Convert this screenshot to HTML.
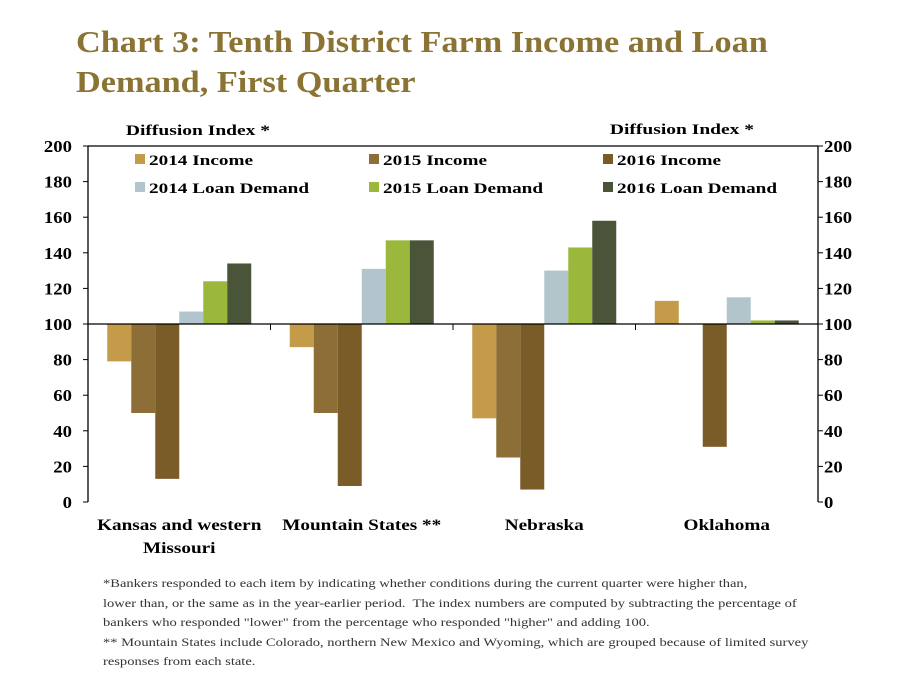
<!DOCTYPE html>
<html><head><meta charset="utf-8"><style>
body{margin:0;background:#fff;font-family:"Liberation Serif",serif;}
#wrap{position:relative;width:898px;height:674px;overflow:hidden;}
h1{position:absolute;left:76px;top:22px;margin:0;font-size:31px;line-height:40px;color:#8a7333;font-weight:bold;transform:scaleX(1.105);transform-origin:0 0;white-space:nowrap;}
.note{position:absolute;left:103px;top:574px;font-size:12px;line-height:19.5px;color:#333;width:760px;white-space:nowrap;transform:scaleX(1.21);transform-origin:0 0;}
</style></head><body>
<div id="wrap">
<h1>Chart 3: Tenth District Farm Income and Loan<br>Demand, First Quarter</h1>
<svg id="chart" width="898" height="674" style="position:absolute;left:0;top:0"></svg>
<div class="note">*Bankers responded to each item by indicating whether conditions during the current quarter were higher than,<br>lower than, or the same as in the year-earlier period.&nbsp; The index numbers are computed by subtracting the percentage of<br>bankers who responded "lower" from the percentage who responded "higher" and adding 100.<br>** Mountain States include Colorado, northern New Mexico and Wyoming, which are grouped because of limited survey<br>responses from each state.</div>
</div>
<script>
const categories=["Kansas and western|Missouri","Mountain States **","Nebraska","Oklahoma"];
const seriesNames=["2014 Income","2015 Income","2016 Income","2014 Loan Demand","2015 Loan Demand","2016 Loan Demand"];
const income2014=[79,87,47,113];
const income2015=[50,50,25,null];
const income2016=[13,9,7,31];
const loan2014=[107,131,130,115];
const loan2015=[124,147,143,102];
const loan2016=[134,147,158,102];
const yTicks=[0,20,40,60,80,100,120,140,160,180,200];
const colors=["#c49b48","#8c6e36","#7a5c29","#b3c5cc","#9bb83c","#4a5438"];
const series=[income2014,income2015,income2016,loan2014,loan2015,loan2016];
const svg=document.getElementById('chart');
const NS='http://www.w3.org/2000/svg';
const L=88,R=818,T=146,B=502;
const y=v=>B-(v/200)*(B-T);
const gw=(R-L)/categories.length, bw=24, pad=(gw-6*bw)/2;
const x=(ci,si)=>L+ci*gw+pad+si*bw;
function mk(tag,attrs,txt){const e=document.createElementNS(NS,tag);for(const k in attrs)e.setAttribute(k,attrs[k]);if(txt!==undefined)e.textContent=txt;svg.appendChild(e);return e;}
function widen(e,f){const w=e.getComputedTextLength();e.setAttribute('textLength',w*f);e.setAttribute('lengthAdjust','spacingAndGlyphs');}
let e=mk('line',{x1:L,y1:T,x2:L,y2:B,stroke:'#000','stroke-width':1.3});


e=mk('line',{x1:R,y1:T,x2:R,y2:B,stroke:'#000','stroke-width':1.3});


e=mk('line',{x1:L,y1:T,x2:R,y2:T,stroke:'#000','stroke-width':1.3});


yTicks.forEach(t=>{
 mk('line',{x1:L-5,y1:y(t),x2:L,y2:y(t),stroke:'#000'});
 mk('line',{x1:R,y1:y(t),x2:R+5,y2:y(t),stroke:'#000'});
 e=mk('text',{x:L-16,y:y(t)+6,'text-anchor':'end','font-size':17,'font-weight':'bold'},t);
 
 
 widen(e,1.1);
 e=mk('text',{x:R+6,y:y(t)+6,'font-size':17,'font-weight':'bold'},t);
 
 
 widen(e,1.1);
});
e=mk('text',{x:198,y:135,'text-anchor':'middle','font-size':15,'font-weight':'bold'},'Diffusion Index *');


widen(e,1.3);
e=mk('text',{x:682,y:134,'text-anchor':'middle','font-size':15,'font-weight':'bold'},'Diffusion Index *');


widen(e,1.3);
series.forEach((s,si)=>{s.forEach((v,ci)=>{if(v==null)return;
 const y0=y(Math.max(v,100)),h=Math.abs(y(v)-y(100));
 const r=mk('rect',{x:x(ci,si),y:y0,width:bw,height:h,fill:colors[si]});
 
 
});});
e=mk('line',{x1:L,y1:y(100),x2:R,y2:y(100),stroke:'#000','stroke-width':1.3});


for(let i=1;i<categories.length;i++)mk('line',{x1:L+i*gw,y1:y(100),x2:L+i*gw,y2:y(100)+6,stroke:'#000'});
categories.forEach((c,ci)=>{c.split('|').forEach((ln,k)=>{
 e=mk('text',{x:L+ci*gw+gw/2,y:530+k*23,'text-anchor':'middle','font-size':16,'font-weight':'bold'},ln);
 
 
 widen(e,1.2);
});});
const lx=[135,369,603],ly=[160,188];
seriesNames.forEach((n,i)=>{
 const cx=lx[i%3],cy=ly[Math.floor(i/3)];
 e=mk('rect',{x:cx,y:cy-6,width:10,height:10,fill:colors[i]});
 
 
 e=mk('text',{x:cx+14,y:cy+5,'font-size':15,'font-weight':'bold'},n);
 
 
 widen(e,1.28);
});
</script>
</body></html>
